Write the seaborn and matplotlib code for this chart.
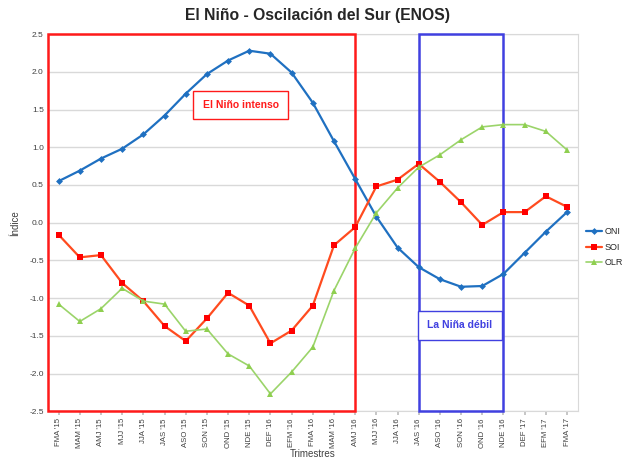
import numpy as np
import pandas as pd
import matplotlib.pyplot as plt
import matplotlib.patches as patches
import seaborn as sns

sns.set_theme(style="white")
plt.rcParams['font.family'] = ['Liberation Sans', 'DejaVu Sans']

trimestres = ["FMA '15", "MAM '15", "AMJ '15", "MJJ '15", "JJA '15", "JAS '15", "ASO '15",
              "SON '15", "OND '15", "NDE '15", "DEF '16", "EFM '16", "FMA '16", "MAM '16",
              "AMJ '16", "MJJ '16", "JJA '16", "JAS '16", "ASO '16", "SON '16", "OND '16",
              "NDE '16", "DEF '17", "EFM '17", "FMA '17"]
oni = [0.55, 0.69, 0.85, 0.98, 1.17, 1.42, 1.71, 1.97, 2.15, 2.28, 2.24, 1.99, 1.59, 1.08,
       0.58, 0.08, -0.33, -0.59, -0.75, -0.85, -0.84, -0.68, -0.40, -0.12, 0.14]
soi = [-0.16, -0.46, -0.43, -0.80, -1.04, -1.37, -1.57, -1.27, -0.93, -1.10, -1.60, -1.43,
       -1.10, -0.30, -0.06, 0.48, 0.57, 0.78, 0.54, 0.27, -0.03, 0.14, 0.14, 0.35, 0.21]
olr = [-1.08, -1.31, -1.14, -0.87, -1.04, -1.08, -1.44, -1.41, -1.74, -1.90, -2.27, -1.98,
       -1.65, -0.90, -0.34, 0.13, 0.46, 0.735, 0.90, 1.10, 1.27, 1.30, 1.30, 1.21, 0.965]

df = pd.DataFrame({"pos": np.arange(len(trimestres)), "ONI": oni, "SOI": soi, "OLR": olr})

fig = plt.figure(figsize=(6.35, 4.61), dpi=100)
ax = fig.add_axes([0.0756, 0.108, 0.834, 0.818])

sns.lineplot(data=df, x="pos", y="ONI", ax=ax, color="#1f70c1", lw=1.6, marker="D",
             markersize=3.5, markeredgewidth=0, label="ONI", zorder=3)
sns.lineplot(data=df, x="pos", y="SOI", ax=ax, color="#ff4b1f", lw=1.6, marker="s",
             markersize=5, markerfacecolor="#ff0000", markeredgewidth=0, label="SOI", zorder=3)
sns.lineplot(data=df, x="pos", y="OLR", ax=ax, color="#9bd46a", lw=1.2, marker="^",
             markersize=5, markerfacecolor="#8fcf50", markeredgewidth=0, label="OLR", zorder=3)

ax.set_xlim(-0.5, len(trimestres) - 0.5)
ax.set_ylim(-2.5, 2.5)
ax.set_yticks(np.arange(-2.5, 2.51, 0.5))
ax.set_yticklabels([f"{v:.1f}" for v in np.arange(-2.5, 2.51, 0.5)], fontsize=6, color="#404040")
ax.set_xticks(df["pos"])
ax.set_xticklabels(trimestres, rotation=90, fontsize=5.6, color="#404040")
ax.tick_params(axis="x", length=3, color="#bfbfbf", bottom=True, pad=2)
ax.tick_params(axis="y", length=0, pad=3)
ax.grid(axis="y", color="#d9d9d9", lw=1)
for s in ax.spines.values():
    s.set_color("#d9d9d9")
    s.set_linewidth(0.8)

ax.set_xlabel("Trimestres", fontsize=7, color="#404040")
ax.xaxis.set_label_coords(0.5, -0.1)
ax.set_ylabel("Índice", fontsize=7, color="#404040")
ax.yaxis.set_label_coords(-0.053, 0.5)
fig.suptitle("El Niño - Oscilación del Sur (ENOS)", fontsize=11.3, fontweight="bold", y=0.982)

ax.add_patch(patches.Rectangle((-0.5, -2.5), 14.5, 5, fill=False, edgecolor="#ff1a1a",
                               lw=1.8, zorder=2.7, clip_on=False))
ax.add_patch(patches.Rectangle((17, -2.5), 4, 5, fill=False, edgecolor="#4040e0",
                               lw=1.8, zorder=2.7, clip_on=False))
ax.text(8.6, 1.56, "El Niño intenso", ha="center", va="center", fontsize=7.5,
        fontweight="bold", color="#ff1a1a", zorder=6,
        bbox=dict(boxstyle="square,pad=0.9", fc="white", ec="#ff1a1a", lw=1))
ax.text(18.94, -1.36, "La Niña débil", ha="center", va="center", fontsize=7.5,
        fontweight="bold", color="#4040e0", zorder=6,
        bbox=dict(boxstyle="square,pad=0.9", fc="white", ec="#4040e0", lw=1))

ax.legend(loc="center left", bbox_to_anchor=(1.0, 0.435), frameon=False, fontsize=6.5,
          handlelength=1.8, labelspacing=0.75, borderaxespad=0.5, handletextpad=0.3)

fig.savefig("out.png", dpi=100)
